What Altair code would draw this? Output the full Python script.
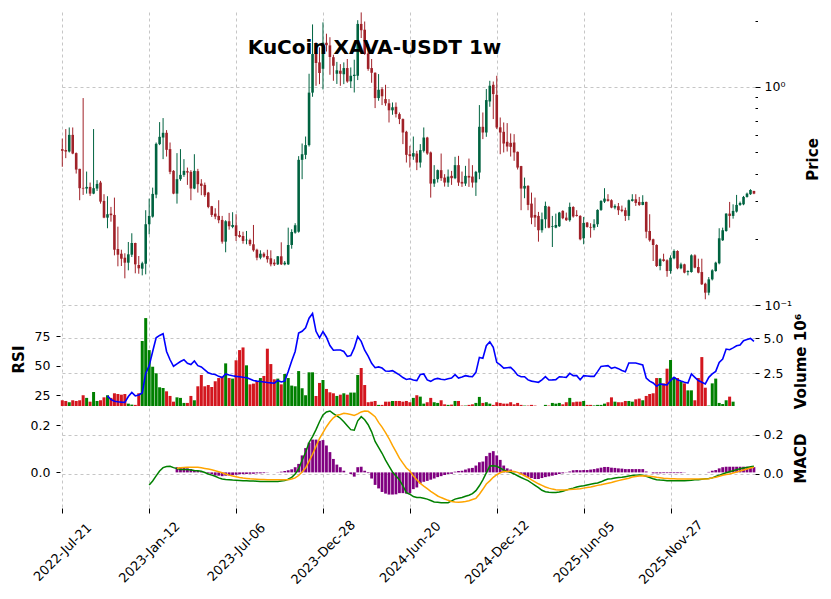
import json
import altair as alt
import pandas as pd

# ---------------- data ----------------
tick_labels = ["2022-Jul-21", "2023-Jan-12", "2023-Jul-06", "2023-Dec-28",
               "2024-Jun-20", "2024-Dec-12", "2025-Jun-05", "2025-Nov-27"]

opens = [0.518,0.513,0.505,0.602,0.4966,0.4207,0.3442,0.3418,0.3478,0.3240,
0.3418,0.3641,0.300,0.2515,0.2624,0.2588,0.1807,0.1719,0.1648,0.1564,
0.1701,0.1925,0.1526,0.1468,0.1547,0.2346,0.2542,0.3206,0.5461,0.5854,
0.6153,0.5181,0.4119,0.3240,0.3773,0.3948,0.4106,0.4076,0.3418,0.4106,
0.3602,0.3553,0.3275,0.2837,0.2624,0.2561,0.2455,0.1952,0.2421,0.2280,
0.2320,0.2095,0.2072,0.1981,0.1987,0.1899,0.1793,0.1648,0.1719,0.1678,
0.1638,0.1564,0.1537,0.1673,0.1537,0.1537,0.1885,0.2146,0.2168,0.4627,
0.4877,0.5404,0.940,1.422,1.293,1.209,1.590,1.547,1.366,1.147,
1.184,1.141,1.218,1.059,1.120,1.123,1.940,1.825,1.420,1.218,
1.159,0.8875,0.975,0.8782,0.8401,0.7802,0.8096,0.7496,0.7111,0.6218,
0.4910,0.4790,0.4945,0.4497,0.5088,0.5854,0.5000,0.3602,0.3773,0.4150,
0.3837,0.3641,0.3907,0.3813,0.4375,0.3667,0.3602,0.3907,0.3878,0.3641,
0.4046,0.6555,0.6173,0.8563,1.021,0.9189,0.6520,0.6218,0.5596,0.5535,
0.5555,0.5035,0.4332,0.3418,0.3515,0.2916,0.2588,0.2561,0.2202,0.2473,
0.2816,0.2280,0.2263,0.2297,0.2700,0.2515,0.2448,0.2816,0.2588,0.2561,
0.2023,0.2387,0.2280,0.2263,0.2346,0.2728,0.2978,0.3052,0.3022,0.2796,
0.2837,0.2737,0.2720,0.2561,0.3000,0.3052,0.2968,0.2876,0.2968,0.2185,
0.2002,0.1885,0.1510,0.1621,0.1604,0.1432,0.1638,0.1769,0.1474,0.1537,
0.1417,0.1417,0.1690,0.1494,0.1417,0.1253,0.1140,0.1312,0.1432,0.1554,
0.1981,0.2185,0.2624,0.2561,0.2681,0.2876,0.2894,0.3129,0.3220,0.3334]

highs = [0.579,0.640,0.651,0.651,0.500,0.421,0.8875,0.4089,0.3641,0.640,
0.3734,0.3706,0.3220,0.3152,0.2816,0.3106,0.2287,0.1793,0.1727,0.1945,
0.2133,0.1930,0.1678,0.1580,0.2720,0.3074,0.3452,0.5555,0.6889,0.7186,
0.6331,0.5555,0.4150,0.4966,0.5181,0.4661,0.4265,0.4150,0.4910,0.4207,
0.3773,0.3641,0.3299,0.2846,0.2777,0.3022,0.2561,0.2448,0.2644,0.2663,
0.2607,0.2185,0.2168,0.2185,0.2014,0.2328,0.1812,0.1782,0.1745,0.1793,
0.1782,0.1621,0.1678,0.1939,0.1592,0.2263,0.2225,0.2371,0.4811,0.5496,
0.5916,1.147,1.930,1.597,1.515,1.972,1.750,1.686,1.402,1.300,
1.270,1.293,1.340,1.226,1.330,2.018,2.190,1.990,1.570,1.340,
1.164,1.143,0.993,1.021,0.878,0.8474,0.8474,0.7625,0.7159,0.6284,
0.5364,0.5916,0.5088,0.5461,0.6510,0.5898,0.5050,0.4375,0.4178,0.4945,
0.3978,0.4178,0.4119,0.4776,0.4826,0.4089,0.4342,0.4690,0.4375,0.4119,
0.8243,0.7625,0.9763,1.065,1.057,1.123,0.7231,0.6861,0.6816,0.6110,
0.6066,0.5050,0.4342,0.3837,0.3543,0.3275,0.3106,0.2672,0.2653,0.2978,
0.2846,0.2561,0.2624,0.2672,0.2720,0.2653,0.2947,0.2837,0.2720,0.2580,
0.2534,0.2403,0.2371,0.2473,0.2746,0.3022,0.3431,0.3220,0.3052,0.2894,
0.2935,0.2856,0.2796,0.3044,0.3220,0.3220,0.3129,0.3186,0.2978,0.2607,
0.2014,0.1899,0.1638,0.1719,0.1621,0.1690,0.1800,0.1782,0.1564,0.1547,
0.1443,0.1708,0.1708,0.1631,0.1631,0.1266,0.1344,0.1459,0.1580,0.2249,
0.2263,0.2634,0.2968,0.2894,0.3196,0.2978,0.3162,0.3275,0.3395,0.3334]

lows = [0.430,0.471,0.500,0.491,0.4003,0.3022,0.3196,0.3240,0.3162,0.3220,
0.3334,0.2916,0.2500,0.2249,0.2411,0.1690,0.1505,0.1510,0.1326,0.1443,
0.1660,0.1398,0.1392,0.1368,0.1383,0.2110,0.2515,0.3087,0.5404,0.4661,
0.4790,0.3978,0.3220,0.2916,0.3706,0.3866,0.3553,0.3022,0.3395,0.3275,
0.3186,0.3129,0.2777,0.2534,0.2473,0.2371,0.1911,0.1745,0.2215,0.2249,
0.1966,0.2036,0.1911,0.1899,0.1865,0.1756,0.1604,0.1621,0.1648,0.1564,
0.1505,0.1510,0.1526,0.1526,0.1521,0.1526,0.1812,0.2124,0.2146,0.3773,
0.4661,0.5324,0.8998,1.010,1.028,0.972,1.450,1.135,1.065,1.030,
1.010,1.028,1.043,0.9864,0.9415,1.073,1.672,1.400,1.184,1.043,
0.7986,0.8626,0.8243,0.8182,0.6861,0.7441,0.7231,0.6745,0.5461,0.4497,
0.4265,0.4627,0.4150,0.4265,0.5000,0.4877,0.3106,0.3478,0.3641,0.3706,
0.3489,0.3478,0.3553,0.3773,0.3515,0.3478,0.3515,0.3478,0.3452,0.3162,
0.3773,0.5757,0.5898,0.8096,0.7111,0.6400,0.4910,0.5000,0.5050,0.4790,
0.4578,0.4178,0.2720,0.3087,0.2720,0.2346,0.2280,0.1952,0.2146,0.2249,
0.2249,0.1845,0.2249,0.2280,0.2473,0.2429,0.2411,0.2515,0.2542,0.1981,
0.1899,0.2263,0.2036,0.2202,0.2280,0.2700,0.2935,0.2978,0.2777,0.2746,
0.2588,0.2663,0.2429,0.2448,0.2978,0.2846,0.2846,0.2866,0.2023,0.1952,
0.1592,0.1494,0.1443,0.1580,0.1348,0.1392,0.1621,0.1459,0.1459,0.1398,
0.1368,0.1408,0.1474,0.1398,0.1236,0.1063,0.1109,0.1297,0.1422,0.1537,
0.1966,0.2168,0.2263,0.2488,0.2653,0.2846,0.2866,0.3106,0.3196,0.3220]

closes = [0.509,0.505,0.602,0.4945,0.4176,0.3431,0.3418,0.3478,0.3240,0.3431,
0.3590,0.2978,0.2515,0.2607,0.2580,0.1793,0.1701,0.1631,0.1564,0.1708,
0.1925,0.1537,0.1474,0.1554,0.2346,0.2561,0.3230,0.5479,0.5898,0.6153,
0.5142,0.4076,0.3240,0.3773,0.3948,0.4119,0.4046,0.3418,0.4119,0.3579,
0.3515,0.3186,0.2816,0.2588,0.2542,0.2448,0.1952,0.2421,0.2297,0.2328,
0.2072,0.2051,0.1966,0.1993,0.1899,0.1782,0.1648,0.1719,0.1666,0.1621,
0.1537,0.1537,0.1673,0.1537,0.1564,0.1885,0.2162,0.2321,0.4627,0.4910,
0.5404,0.940,1.413,1.284,1.156,1.592,1.550,1.369,1.248,1.190,
1.147,1.218,1.057,1.123,1.135,1.940,1.815,1.414,1.207,1.159,
0.8875,0.9688,0.9045,0.8401,0.7802,0.8053,0.7496,0.7111,0.6173,0.4877,
0.4811,0.4966,0.4497,0.5126,0.5854,0.4945,0.3602,0.3773,0.4150,0.3813,
0.3641,0.3878,0.3813,0.4375,0.3641,0.3602,0.3907,0.3837,0.3641,0.4076,
0.6555,0.6173,0.8690,1.011,0.9257,0.6506,0.6173,0.5496,0.5324,0.5307,
0.5000,0.4265,0.3418,0.3515,0.2876,0.2515,0.2515,0.2202,0.2473,0.2846,
0.2263,0.2297,0.2328,0.2653,0.2500,0.2448,0.2816,0.2542,0.2561,0.2002,
0.2378,0.2280,0.2263,0.2346,0.2728,0.3000,0.3074,0.3000,0.2796,0.2846,
0.2720,0.2700,0.2561,0.3022,0.3052,0.2937,0.2876,0.2968,0.2168,0.1981,
0.1885,0.1510,0.1621,0.1592,0.1432,0.1648,0.1769,0.1474,0.1537,0.1408,
0.1432,0.1690,0.1484,0.1408,0.1245,0.1140,0.1312,0.1443,0.1564,0.2023,
0.2202,0.2624,0.2561,0.2700,0.2876,0.2935,0.3129,0.3240,0.3366,0.3240]

volumes = [0.57,0.52,0.43,0.57,0.52,0.57,0.93,0.74,0.47,1.16,
0.52,0.57,0.78,0.93,0.74,1.07,1.02,0.97,1.02,0.33,
0.26,0.24,1.07,4.81,6.45,4.16,2.97,2.50,1.50,1.45,
1.21,0.88,0.47,0.78,0.74,0.38,0.38,0.88,0.57,1.57,
2.38,1.57,1.66,1.52,1.93,2.16,2.26,3.21,2.16,2.12,
3.43,4.16,4.35,3.07,1.71,1.76,1.93,2.16,2.31,4.26,
3.16,2.07,2.12,1.71,2.45,2.16,1.62,1.57,2.66,1.43,
0.93,2.57,2.57,0.88,1.81,2.02,1.38,1.14,1.07,0.88,
0.97,1.07,0.97,1.12,1.12,2.38,2.88,1.66,0.43,0.47,
0.52,0.24,0.24,0.47,0.47,0.52,0.52,0.52,0.47,0.52,
0.43,0.74,0.93,0.83,0.33,0.43,0.74,0.43,0.38,0.57,
0.28,0.24,0.26,0.52,0.52,0.19,0.19,0.24,0.28,0.38,
0.81,0.38,0.43,0.33,0.24,0.43,0.38,0.33,0.33,0.43,
0.28,0.38,0.24,0.19,0.19,0.24,0.19,0.16,0.10,0.24,
0.19,0.38,0.33,0.38,0.28,0.43,0.74,0.43,0.47,0.47,
0.52,0.24,0.24,0.20,0.24,0.24,0.33,0.43,0.78,0.47,
0.43,0.43,0.52,0.52,0.47,0.64,0.69,0.57,0.88,1.02,
1.07,2.16,2.16,1.78,2.83,3.45,2.21,2.16,1.93,1.78,
1.28,1.28,0.57,2.16,3.66,1.47,0.19,1.78,2.12,0.38,
0.30,0.57,0.83,0.47,0.05,0.05,0.05,0.05,0.05,0.05]  # millions

rsi_start = 13
rsi = [24.5,21.5,20.0,19.6,19.3,19.1,24.0,27.5,24.5,25.3,27.0,43.5,50.0,62.0,73.5,
75.5,77.0,62.0,55.0,49.5,51.5,53.5,55.0,52.0,51.0,54.0,50.0,48.9,46.5,44.0,
43.0,42.5,41.0,40.0,43.0,42.2,41.5,41.0,40.6,40.2,39.9,38.8,37.5,37.0,36.6,
36.2,35.8,35.5,35.2,37.5,36.3,37.1,45.0,54.0,62.0,77.5,79.0,82.0,90.0,94.0,
79.0,73.5,78.8,74.0,67.0,63.0,63.2,63.2,62.0,57.8,58.5,65.0,74.5,70.5,63.0,
58.0,52.0,48.3,49.0,48.0,45.5,45.3,45.8,44.0,42.3,40.0,38.4,39.0,38.0,37.4,
42.5,43.0,38.0,36.8,38.5,39.3,38.5,38.2,39.0,39.6,42.4,39.6,40.5,41.6,41.0,
40.7,44.4,57.0,56.2,66.8,70.2,65.4,52.8,50.6,48.0,48.3,48.6,45.8,42.0,40.7,
40.7,38.0,37.0,36.5,36.0,38.0,40.7,37.9,38.0,38.2,40.7,40.4,40.2,43.5,41.6,
41.6,38.2,41.6,41.3,41.0,41.0,45.0,49.4,49.7,50.0,47.8,48.6,47.5,46.0,44.9,
52.2,52.2,52.2,51.5,50.6,39.6,37.0,35.4,32.6,34.6,34.0,33.7,37.4,40.2,38.2,
37.0,36.0,35.4,43.0,40.2,37.5,36.0,34.6,40.2,43.0,45.2,52.8,55.6,64.0,63.5,
65.0,66.8,67.4,71.1,72.0,73.0,70.5]

macd_start = 25
macd = [-0.056,-0.036,-0.010,0.015,0.032,0.038,0.039,0.032,0.027,0.023,
0.022,0.022,0.020,0.017,0.016,0.014,0.007,0.000,-0.006,-0.012,
-0.020,-0.026,-0.028,-0.029,-0.031,-0.032,-0.033,-0.034,-0.035,-0.036,
-0.036,-0.037,-0.038,-0.038,-0.038,-0.039,-0.039,-0.038,-0.036,-0.034,
-0.027,-0.017,0.000,0.025,0.070,0.110,0.160,0.190,0.225,0.265,
0.300,0.315,0.320,0.306,0.295,0.283,0.265,0.245,0.225,0.222,
0.270,0.291,0.275,0.250,0.214,0.165,0.135,0.105,0.070,0.040,
0.010,-0.010,-0.030,-0.060,-0.095,-0.103,-0.115,-0.120,-0.120,-0.124,
-0.128,-0.135,-0.142,-0.144,-0.146,-0.146,-0.146,-0.137,-0.128,-0.124,
-0.120,-0.113,-0.108,-0.100,-0.085,-0.060,-0.030,0.005,0.040,0.042,
0.039,0.030,0.020,0.013,0.008,0.000,-0.009,-0.018,-0.026,-0.034,
-0.046,-0.058,-0.070,-0.083,-0.090,-0.093,-0.094,-0.094,-0.092,-0.088,
-0.082,-0.076,-0.072,-0.066,-0.062,-0.060,-0.056,-0.052,-0.049,-0.046,
-0.040,-0.032,-0.026,-0.024,-0.021,-0.018,-0.017,-0.014,-0.011,-0.008,
-0.006,-0.005,-0.007,-0.012,-0.018,-0.024,-0.029,-0.031,-0.032,-0.034,
-0.034,-0.034,-0.034,-0.034,-0.034,-0.033,-0.032,-0.030,-0.029,-0.027,
-0.025,-0.023,-0.020,-0.013,-0.007,0.000,0.006,0.011,0.016,0.022,
0.026,0.030,0.033,0.036,0.039]

signal_start = 33
signal = [0.029,0.031,0.033,0.034,0.034,0.034,0.034,0.031,0.028,0.025,
0.021,0.016,0.011,0.006,0.000,-0.006,-0.010,-0.014,-0.018,-0.021,
-0.023,-0.025,-0.026,-0.027,-0.028,-0.028,-0.029,-0.029,-0.029,-0.029,
-0.029,-0.029,-0.029,-0.026,-0.020,-0.008,0.010,0.030,0.065,0.100,
0.140,0.180,0.210,0.240,0.265,0.285,0.298,0.302,0.308,0.306,
0.302,0.297,0.305,0.315,0.320,0.318,0.305,0.291,0.262,0.238,
0.210,0.180,0.145,0.113,0.080,0.055,0.030,0.015,-0.010,-0.030,
-0.048,-0.062,-0.075,-0.088,-0.100,-0.112,-0.120,-0.127,-0.134,-0.140,
-0.143,-0.144,-0.142,-0.140,-0.136,-0.130,-0.124,-0.103,-0.078,-0.051,
-0.035,-0.017,-0.004,0.006,0.012,0.013,0.014,0.012,0.008,0.000,
-0.009,-0.018,-0.030,-0.040,-0.050,-0.058,-0.066,-0.072,-0.077,-0.080,
-0.082,-0.082,-0.081,-0.079,-0.078,-0.077,-0.075,-0.072,-0.069,-0.066,
-0.062,-0.058,-0.055,-0.051,-0.047,-0.043,-0.038,-0.034,-0.030,-0.026,
-0.022,-0.016,-0.013,-0.010,-0.009,-0.010,-0.012,-0.014,-0.017,-0.019,
-0.022,-0.023,-0.024,-0.025,-0.026,-0.026,-0.026,-0.026,-0.026,-0.026,
-0.026,-0.026,-0.026,-0.024,-0.020,-0.017,-0.012,-0.007,-0.003,0.000,
0.005,0.010,0.015,0.020,0.025,0.030,0.034]

hist_start = 33
hist = [0.022,0.022,0.020,0.017,0.014,0.010,0.007,0.004,0.000,-0.004,
-0.008,-0.013,-0.014,-0.016,-0.014,-0.013,-0.011,-0.010,-0.008,-0.007,
-0.007,-0.006,-0.006,-0.004,-0.004,-0.003,-0.001,0.000,0.000,0.001,
0.003,0.006,0.009,0.013,0.022,0.036,0.072,0.103,0.126,0.139,
0.139,0.134,0.137,0.114,0.086,0.057,0.033,0.022,0.007,0.000,
-0.007,-0.018,0.022,0.024,0.007,-0.003,-0.026,-0.053,-0.068,-0.083,
-0.090,-0.094,-0.094,-0.093,-0.088,-0.088,-0.090,-0.088,-0.071,-0.064,
-0.047,-0.040,-0.036,-0.031,-0.026,-0.020,-0.016,-0.011,-0.007,-0.006,
0.003,0.006,0.007,0.012,0.017,0.019,0.029,0.043,0.046,0.069,
0.083,0.090,0.072,0.053,0.029,0.017,0.012,0.006,0.000,-0.007,
-0.014,-0.020,-0.024,-0.028,-0.028,-0.024,-0.020,-0.017,-0.014,-0.011,
-0.007,-0.004,-0.001,0.004,0.009,0.010,0.009,0.010,0.010,0.012,
0.014,0.017,0.020,0.023,0.023,0.020,0.019,0.017,0.016,0.014,
0.014,0.014,0.014,0.014,0.014,0.004,0.000,-0.004,-0.004,-0.004,
-0.003,-0.003,-0.003,-0.003,-0.003,-0.003,-0.001,0.000,0.000,0.000,
0.000,0.000,0.000,0.002,0.007,0.010,0.017,0.022,0.024,0.024,
0.024,0.024,0.024,0.024,0.024,0.022,0.022]

# ---------------- tables ----------------
n = min(len(opens), len(highs), len(lows), len(closes), len(volumes))
price_df = pd.DataFrame({
    "i": list(range(n)),
    "open": opens[:n], "high": highs[:n], "low": lows[:n], "close": closes[:n],
    "vol": [v * 1e6 for v in volumes[:n]],
})
price_df["dir"] = ["up" if c >= o else "down" for o, c in zip(price_df["open"], price_df["close"])]
price_df["vdir"] = ["v" + d for d in price_df["dir"]]

rsi_df = pd.DataFrame({"i": [rsi_start + k for k in range(len(rsi))], "rsi": rsi})
lines_df = pd.concat([
    pd.DataFrame({"i": [macd_start + k for k in range(len(macd))], "v": macd, "s": "MACD"}),
    pd.DataFrame({"i": [signal_start + k for k in range(len(signal))], "v": signal, "s": "Signal"}),
])
hist_df = pd.DataFrame({"i": [hist_start + k for k in range(len(hist))], "h": hist})

# ---------------- styling helpers ----------------
W = 695
FONT = "DejaVu Sans"
GRID = dict(grid=True, gridDash=[3, 3], gridColor="#b8b8b8", gridWidth=0.8)
xscale = alt.Scale(domain=[-0.66, 199.3], nice=False, zero=False, padding=0)
xvals = list(range(0, 176, 25))
label_expr = json.dumps(tick_labels) + "[round(datum.value/25)]"

x_top = alt.X("i:Q", scale=xscale, title=None,
              axis=alt.Axis(values=xvals, labels=False, ticks=False, domain=False, **GRID))
x_bottom = alt.X("i:Q", scale=xscale, title=None,
                 axis=alt.Axis(values=xvals, labelExpr=label_expr, ticks=True, tickSize=5,
                               tickColor="black", domain=False, labelAngle=315,
                               labelAlign="center", labelBaseline="middle", labelPadding=39,
                               labelFontSize=13, labelFlush=False, labelOverlap=False, **GRID))

updown = alt.Scale(domain=["up", "down"], range=["#006340", "#a02128"])
volcol = alt.Scale(domain=["vup", "vdown"], range=["#008000", "#d3161e"])

title_common = dict(titleFont=FONT, titleFontSize=15, titleFontWeight="bold", titleColor="black",
                    titleAngle=270, titleAlign="center", titleBaseline="middle")

# ---------------- price panel ----------------
is_major = "datum.value == 1 || (datum.value > 0.099 && datum.value < 0.101)"
price_axis = alt.Axis(orient="right", values=[0.1, 0.2, 0.3, 0.4, 0.5, 0.6, 0.7, 0.8, 0.9, 1, 2],
                      labelExpr="datum.value == 1 ? '10\u2070' : ((datum.value > 0.099 && datum.value < 0.101) ? '10\u207b\u00b9' : '')",
                      tickSize={"condition": {"test": is_major, "value": 5}, "value": 2.5},
                      gridOpacity={"condition": {"test": is_major, "value": 1}, "value": 0},
                      domain=False, labelFlush=False, labelOverlap=False, labelPadding=4,
                      title="Price", titleX=57, titleY=147, **GRID, **title_common)
pscale = alt.Scale(type="log", domain=[0.098, 2.2], nice=False)

pbase = alt.Chart(price_df)
wicks = pbase.mark_rule(strokeWidth=1).encode(
    x=x_top,
    y=alt.Y("low:Q", scale=pscale, axis=price_axis),
    y2="high:Q",
    color=alt.Color("dir:N", scale=updown, legend=None),
)
bodies = pbase.mark_bar(size=2.6).encode(
    x="i:Q", y="open:Q", y2="close:Q",
    color=alt.Color("dir:N", scale=updown, legend=None),
)
price_panel = alt.layer(wicks, bodies).properties(
    width=W, height=295,
    title=alt.TitleParams("KuCoin XAVA-USDT 1w", font=FONT, fontSize=20, fontWeight="bold",
                          color="black", anchor="middle", frame="group", dx=-33, dy=62,
                          offset=0, baseline="alphabetic"),
)

# ---------------- volume + RSI panel ----------------
vol_bars = alt.Chart(price_df).mark_bar(size=3, clip=True).encode(
    x=x_top,
    y=alt.Y("vol:Q", scale=alt.Scale(domain=[0.16e6, 7.1e6], nice=False, zero=False),
            axis=alt.Axis(orient="right", values=[2.5e6, 5e6], labelExpr="format(datum.value/1e6, '.1f')",
                          tickSize=4, domain=False, labelPadding=4, title="Volume  10\u2076",
                          titleX=45, titleY=52, **GRID, **title_common)),
    y2=alt.datum(0),
    color=alt.Color("vdir:N", scale=volcol, legend=None),
)
rsi_line = alt.Chart(rsi_df).mark_line(color="blue", strokeWidth=1.6).encode(
    x=x_top,
    y=alt.Y("rsi:Q", scale=alt.Scale(domain=[16.0, 97.8], nice=False, zero=False),
            axis=alt.Axis(orient="left", values=[25, 50, 75], grid=False, tickSize=4, domain=False,
                          labelPadding=6, title="RSI", titleX=-42, titleY=50, **title_common)),
)
vol_panel = alt.layer(vol_bars, rsi_line).resolve_scale(y="independent").properties(width=W, height=97)

# ---------------- MACD panel ----------------
hist_bars = alt.Chart(hist_df).mark_bar(size=2.8, color="purple").encode(
    x=x_bottom,
    y=alt.Y("h:Q", scale=alt.Scale(domain=[-0.151, 0.273], nice=False, zero=False),
            axis=alt.Axis(orient="left", values=[0, 0.2], format=".1f", grid=False, tickSize=4,
                          domain=False, labelPadding=6, title=None)),
    y2=alt.datum(0),
)
macd_lines = alt.Chart(lines_df).mark_line(strokeWidth=1.5).encode(
    x="i:Q",
    y=alt.Y("v:Q", scale=alt.Scale(domain=[-0.173, 0.335], nice=False, zero=False),
            axis=alt.Axis(orient="right", values=[0, 0.2], format=".1f", tickSize=4, domain=False,
                          labelPadding=4, title="MACD", titleX=45, titleY=50, **GRID, **title_common)),
    color=alt.Color("s:N", scale=alt.Scale(domain=["MACD", "Signal"], range=["green", "orange"]), legend=None),
    detail="s:N",
)
macd_panel = alt.layer(hist_bars, macd_lines).resolve_scale(y="independent").properties(width=W, height=100)

chart = alt.vconcat(price_panel, vol_panel, macd_panel, spacing=2, bounds="flush").resolve_scale(
    color="independent"
).properties(
    padding={"left": 11, "top": 11, "right": 0, "bottom": 0},
    background="white",
).configure_view(stroke=None).configure_axis(
    labelFont=FONT, labelFontSize=12.5, labelColor="black", tickColor="black",
)

chart.save("out.html", embed_options={"renderer": "svg", "actions": False})
